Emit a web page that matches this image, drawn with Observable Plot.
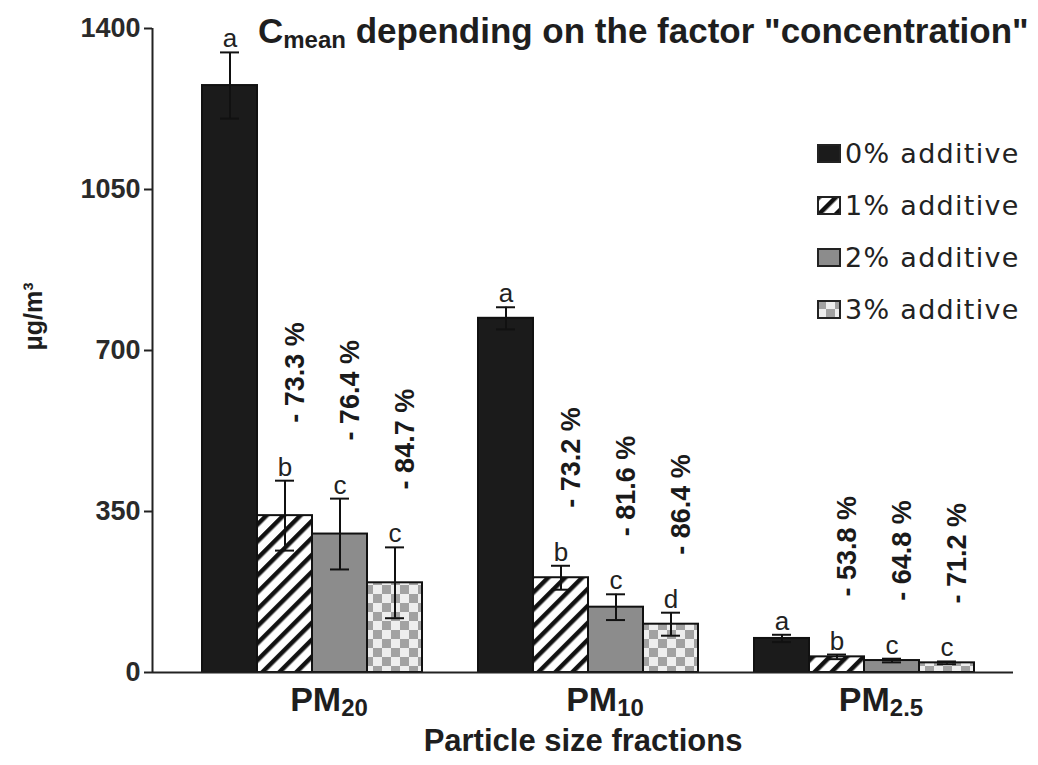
<!DOCTYPE html>
<html>
<head>
<meta charset="utf-8">
<script src="https://cdn.jsdelivr.net/npm/d3@7"></script>
<script src="https://cdn.jsdelivr.net/npm/@observablehq/plot@0.6"></script>
<style>
  body { margin: 0; background: white; font-family: "Liberation Sans", Arial, sans-serif; }
  #wrap { position: relative; width: 1038px; height: 765px; overflow: hidden; }
  #wrap > svg.layer { position: absolute; left: 0; top: 0; }
  #title { position: absolute; left: 258px; top: 13px; font: bold 35px "Liberation Sans", Arial, sans-serif; color: #1e1e1e; white-space: nowrap; line-height: 35px; }
  #title sub { font-size: 24px; vertical-align: -5px; line-height: 0; }
  #legend { position: absolute; left: 817px; top: 127px; font: 27px "DejaVu Sans", sans-serif; color: #222; letter-spacing: 1.3px; }
  #legend .row { display: flex; align-items: center; height: 52px; white-space: nowrap; }
  #legend .row svg { margin-right: 4px; flex: none; }
</style>
</head>
<body>
<div id="wrap">
  <svg width="0" height="0" style="position:absolute">
    <defs>
      <pattern id="pStripe" patternUnits="userSpaceOnUse" width="12" height="12" patternTransform="rotate(45)">
        <rect width="12" height="12" fill="#ffffff"></rect>
        <rect width="4.5" height="12" fill="#111111"></rect>
      </pattern>
      <pattern id="pCheck" patternUnits="userSpaceOnUse" width="18" height="18">
        <rect width="18" height="18" fill="#eeeeee"></rect>
        <rect width="9" height="9" fill="#a2a2a2"></rect>
        <rect x="9" y="9" width="9" height="9" fill="#a2a2a2"></rect>
      </pattern>
    </defs>
  </svg>
  <div id="title">C<sub>mean</sub> depending on the factor "concentration"</div>
  <div id="legend"></div>
</div>
<script>
// ---- data ----
const groups = ["PM20", "PM10", "PM2.5"];
const groupSubs = ["20", "10", "2.5"];
const series = ["0% additive", "1% additive", "2% additive", "3% additive"];
const seriesFills = ["#1b1b1b", "url(#pStripe)", "#8c8c8c", "url(#pCheck)"];

const pm20Mean = [1276, 341, 301, 195];
const pm10Mean = [770, 206, 142, 105];
const pm25Mean = [74, 34, 26, 21];

const pm20Err = [72, 76, 77, 77];
const pm10Err = [24, 26, 28, 25];
const pm25Err = [8, 5, 4, 3];

const pm20Letters = ["a", "b", "c", "c"];
const pm10Letters = ["a", "b", "c", "d"];
const pm25Letters = ["a", "b", "c", "c"];

const pm20Reduction = [null, 73.3, 76.4, 84.7];
const pm10Reduction = [null, 73.2, 81.6, 86.4];
const pm25Reduction = [null, 53.8, 64.8, 71.2];

const yTicks = [0, 350, 700, 1050, 1400];

// ---- table built from the arrays ----
const means = [pm20Mean, pm10Mean, pm25Mean];
const errs = [pm20Err, pm10Err, pm25Err];
const letters = [pm20Letters, pm10Letters, pm25Letters];
const reductions = [pm20Reduction, pm10Reduction, pm25Reduction];
const rows = [];
groups.forEach((g, gi) => series.forEach((s, si) => rows.push({
  group: g, series: s, value: means[gi][si], err: errs[gi][si],
  letter: letters[gi][si], pct: reductions[gi][si], fill: seriesFills[si]
})));

const W = 1038, H = 765;
const M = {marginLeft: 152, marginRight: 25, marginTop: 28, marginBottom: 93};
const font = '"Liberation Sans", Arial, sans-serif';

// ---- bars layer ----
const bars = Plot.plot({
  width: W, height: H, ...M,
  style: {fontFamily: font, color: "#1e1e1e", background: "white"},
  fx: {domain: groups, paddingInner: 0.2, paddingOuter: 0.155, align: 0.55, label: null},
  x: {domain: series, padding: 0, axis: null},
  y: {domain: [0, 1400], axis: null},
  color: {type: "identity"},
  marks: [
    Plot.barY(rows, {fx: "group", x: "series", y: "value", fill: "fill", stroke: "#111", strokeWidth: 2}),
    Plot.ruleX(rows, {fx: "group", x: "series", y1: d => d.value - d.err, y2: d => d.value + d.err, stroke: "#111", strokeWidth: 2}),
    Plot.tickY(rows, {fx: "group", x: "series", y: d => d.value + d.err, stroke: "#111", strokeWidth: 2, insetLeft: 18, insetRight: 18}),
    Plot.tickY(rows, {fx: "group", x: "series", y: d => d.value - d.err, stroke: "#111", strokeWidth: 2, insetLeft: 18, insetRight: 18}),
    Plot.text(rows, {fx: "group", x: "series", y: d => d.value + d.err, text: "letter", lineAnchor: "bottom", dy: -5, fontSize: 26, fill: "#222"}),
    Plot.text(rows.filter(d => d.pct != null), {
      fx: "group", x: "series", y: d => d.value + d.err,
      text: d => `- ${d.pct.toFixed(1)} %`, rotate: -90, textAnchor: "start",
      dx: 10, dy: -58, fontSize: 27, fontWeight: "bold", fill: "#1a1a1a"
    }),
    Plot.axisFx({anchor: "bottom", tickSize: 0, tickPadding: 14, fontSize: 34, fontWeight: "bold", label: null, dx: 17,
      tickFormat: d => d})
  ]
});
bars.classList.add("layer");

// subscripts on the category labels
d3.select(bars).selectAll("text").each(function () {
  const t = this.textContent;
  const gi = groups.indexOf(t);
  if (gi < 0) return;
  const sel = d3.select(this);
  sel.text(null);
  sel.append("tspan").text("PM");
  sel.append("tspan").attr("font-size", 24).attr("dy", 5).text(groupSubs[gi]);
});

// ---- axes layer ----
const axes = Plot.plot({
  width: W, height: H, ...M,
  style: {fontFamily: font, color: "#1e1e1e", background: "transparent"},
  x: {domain: [0, 1], axis: null},
  y: {domain: [0, 1400], axis: null},
  marks: [
    Plot.axisY({ticks: yTicks, tickFormat: "d", tickSize: 8, tickPadding: 4, fontSize: 27, fontWeight: "bold", label: null, stroke: "#222", strokeWidth: 2, fill: "#2a2a2a"}),
    Plot.ruleX([0], {stroke: "#222", strokeWidth: 2}),
    Plot.ruleY([0], {stroke: "#222", strokeWidth: 2}),
    Plot.text(["μg/m³"], {frameAnchor: "left", rotate: -90, dx: -119, fontSize: 25, fontWeight: "bold", fill: "#1e1e1e"}),
    Plot.text(["Particle size fractions"], {frameAnchor: "bottom", dy: 78, fontSize: 31, fontWeight: "bold", fill: "#1e1e1e"})
  ]
});
axes.classList.add("layer");

const wrap = document.getElementById("wrap");
wrap.insertBefore(axes, document.getElementById("title"));
wrap.insertBefore(bars, axes);

// ---- legend ----
const legend = d3.select("#legend");
series.forEach((s, i) => {
  const row = legend.append("div").attr("class", "row");
  const sw = row.append("svg").attr("width", 24).attr("height", 19);
  sw.append("rect").attr("x", 1).attr("y", 1).attr("width", 22).attr("height", 17)
    .attr("fill", seriesFills[i]).attr("stroke", "#222").attr("stroke-width", 2);
  row.append("span").text(s);
});
</script>
</body>
</html>
